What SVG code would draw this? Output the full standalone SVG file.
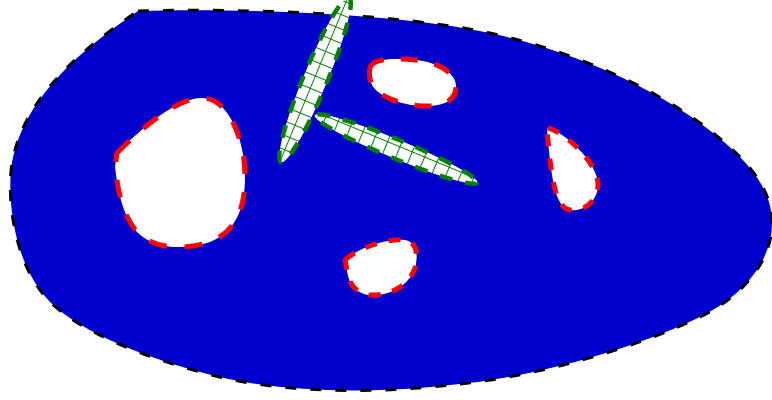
<svg xmlns="http://www.w3.org/2000/svg" width="772" height="400" viewBox="0 0 772 400">
  <defs>
    <pattern id="grid" patternUnits="userSpaceOnUse" x="11.67" y="11.67" width="13.333" height="13.333">
      <rect width="13.333" height="13.333" fill="#ffffff"/>
      <path d="M0,0 H13.333 M0,0 V13.333" stroke="#008000" stroke-width="2" fill="none"/>
    </pattern>
  </defs>
  <style>
    .body { fill: #0000cc; stroke: #000000; stroke-width: 3; stroke-dasharray: 11 14; }
    .hole { fill: #ffffff; stroke: #ff0000; stroke-width: 5; }
    .hatch { fill: url(#grid); stroke: #008000; stroke-width: 4.5; stroke-dasharray: 13 13; }
  </style>
  <g id="body">
    <path class="body" d="M138,11 C250,8 400,14 490,33 C590,55 680,100 733,150 C757,173 772,195 772,223 C772,260 745,295 700,317 C640,346 540,377 450,385 C380,393 280,395 200,372 C120,350 60,320 40,290 C10,250 5,180 15,150 C30,95 80,50 138,11 Z"/>
  </g>
  <g id="holes">
    <path id="holeA" class="hole" stroke-dasharray="18 18" d="M117,153 C130,140 170,100 200,98 C225,96 240,130 244,160 C248,200 240,230 210,242 C185,250 155,250 137,232 C122,215 118,190 115,167 Z"/>
    <path id="holeB" class="hole" stroke-dasharray="17 17" d="M370,68 C372,58 395,58 415,60 C440,62 458,75 456,88 C455,102 440,107 422,106 C400,105 378,96 372,85 C369,78 369,72 370,68 Z"/>
    <path id="holeC" class="hole" stroke-dasharray="12 12" d="M548,128 C560,130 598,160 598,185 C598,200 585,212 570,210 C555,208 552,175 550,160 C549,148 546,130 548,128 Z"/>
    <path id="holeD" class="hole" stroke-dasharray="12 12" d="M345,260 C355,250 385,238 405,240 C418,242 418,258 415,268 C410,282 395,296 370,295 C355,294 348,282 347,270 Z"/>
  </g>
  <g id="hatched">
    <ellipse id="bar2" class="hatch" cx="396" cy="149" rx="88" ry="9.5" transform="rotate(22.5 396 149)"/>
    <ellipse id="bar1" class="hatch" cx="315" cy="80" rx="89" ry="12" transform="rotate(-67.5 315 80)"/>
  </g>
</svg>
